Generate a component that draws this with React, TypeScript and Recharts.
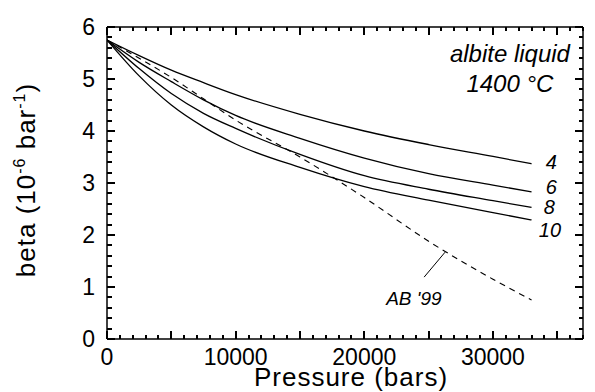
import React from "react";
import { LineChart, Line, XAxis, YAxis, ReferenceDot, ReferenceLine } from "recharts";

// Pressure (bars)
const pressure = [0, 2500, 5000, 7500, 10000, 15000, 20000, 25000, 30000, 33000];
// beta (10^-6 bar^-1) for K' = 4, 6, 8, 10 and the AB '99 curve
const beta4 = [5.75, 5.45, 5.17, 4.93, 4.7, 4.32, 4.0, 3.74, 3.51, 3.37];
const beta6 = [5.75, 5.32, 4.95, 4.6, 4.3, 3.86, 3.48, 3.18, 2.96, 2.83];
const beta8 = [5.75, 5.2, 4.72, 4.34, 4.05, 3.55, 3.14, 2.88, 2.66, 2.53];
const beta10 = [5.75, 5.06, 4.5, 4.08, 3.75, 3.3, 2.93, 2.67, 2.43, 2.29];
const betaAB99 = [5.75, 5.4, 5.03, 4.62, 4.21, 3.5, 2.72, 1.88, 1.15, 0.75];

const xLabelTicks = [0, 10000, 20000, 30000];
const xMinorTicks = Array.from({ length: 38 }, (_, i) => i * 1000);
const yMinorTicks = Array.from({ length: 31 }, (_, i) => Math.round(i * 2) / 10);

const X_DOMAIN: [number, number] = [0, 37000];
const Y_DOMAIN: [number, number] = [0, 6];

const curveLabels: [string, number, number][] = [
  ["4", 34110, 3.27],
  ["6", 34110, 2.79],
  ["8", 33950, 2.4],
  ["10", 33570, 1.96],
];
const abLabel: [string, number, number] = ["AB '99", 21700, 0.65];
const abLeader: [number, number][] = [
  [24650, 1.19],
  [26280, 1.67],
];
const titleLines: [string, number, number][] = [
  ["albite liquid", 31320, 5.33],
  ["1400 °C", 31320, 4.75],
];

const data = pressure.map((p, i) => ({
  p,
  k4: beta4[i],
  k6: beta6[i],
  k8: beta8[i],
  k10: beta10[i],
  ab: betaAB99[i],
}));

const FONT = "'Liberation Sans', Arial, Helvetica, sans-serif";
const TICK_COLOR = "#000";
const isMajor = (v: number, step: number) => Math.abs(v / step - Math.round(v / step)) < 1e-6;

const BottomTick = (props: any) => {
  const { x, y, payload } = props;
  const v = payload.value;
  const len = isMajor(v, 5000) ? 8 : 4;
  const sx = Math.round(x);
  return (
    <g>
      <rect x={sx - 1} y={y - len} width={2} height={len} fill={TICK_COLOR} />
      {xLabelTicks.includes(v) && (
        <text x={x} y={y + 26} textAnchor="middle" fontFamily={FONT} fontSize={23} fill="#000">
          {v}
        </text>
      )}
    </g>
  );
};

const TopTick = (props: any) => {
  const { x, y, payload } = props;
  const len = isMajor(payload.value, 5000) ? 8 : 4;
  const sx = Math.round(x);
  return (
    <g>
      <rect x={sx - 1} y={y} width={2} height={len} fill={TICK_COLOR} />
    </g>
  );
};

const LeftTick = (props: any) => {
  const { x, y, payload } = props;
  const v = payload.value;
  const major = isMajor(v, 1);
  const sy = Math.round(y);
  return (
    <g>
      <rect x={x} y={sy - 1} width={major ? 8 : 5} height={2} fill={TICK_COLOR} />
      {major && (
        <text x={x - 12} y={y + 8} textAnchor="end" fontFamily={FONT} fontSize={23} fill="#000">
          {v}
        </text>
      )}
    </g>
  );
};

const RightTick = (props: any) => {
  const { x, y, payload } = props;
  const len = isMajor(payload.value, 1) ? 8 : 4;
  const sy = Math.round(y);
  return (
    <g>
      <rect x={x - len} y={sy - 1} width={len} height={2} fill={TICK_COLOR} />
    </g>
  );
};

const italicText = (text: string, size: number, anchor: string) => (props: any) => {
  const vb = props.viewBox || {};
  return (
    <text x={vb.x} y={vb.y} textAnchor={anchor} fontFamily={FONT} fontStyle="italic" fontSize={size} fill="#000">
      {text}
    </text>
  );
};

const XTitle = (props: any) => {
  const vb = props.viewBox || {};
  return (
    <text
      x={vb.x + vb.width / 2 + 6}
      y={vb.y + 47}
      textAnchor="middle"
      fontFamily={FONT}
      fontSize={26}
      letterSpacing={1}
      fill="#000"
    >
      Pressure (bars)
    </text>
  );
};

const YTitle = (props: any) => {
  const vb = props.viewBox || {};
  const cx = 35;
  const cy = vb.y + vb.height / 2 - 3;
  return (
    <text
      x={cx}
      y={cy}
      textAnchor="middle"
      fontFamily={FONT}
      fontSize={26}
      letterSpacing={1}
      fill="#000"
      transform={`rotate(-90, ${cx}, ${cy})`}
    >
      <tspan>beta (10</tspan>
      <tspan dy={-10} fontSize={16}>-6</tspan>
      <tspan dy={10}> bar</tspan>
      <tspan dy={-10} fontSize={16}>-1</tspan>
      <tspan dy={10}>)</tspan>
    </text>
  );
};

export default function App() {
  return (
    <div style={{ position: "absolute", left: 0, top: 0, background: "#fff" }}>
      <LineChart width={595} height={392} data={data} margin={{ top: 26, right: 11, bottom: 13, left: 0 }}>
        <XAxis xAxisId="bottom" type="number" dataKey="p" domain={X_DOMAIN} allowDataOverflow ticks={xMinorTicks} interval={0} height={40} tickSize={0} tickMargin={0} tickLine={false} tick={<BottomTick />} axisLine={{ stroke: "#000", strokeWidth: 1.5 }} label={{ content: <XTitle /> }} />
        <XAxis xAxisId="top" orientation="top" type="number" dataKey="p" domain={X_DOMAIN} allowDataOverflow ticks={xMinorTicks} interval={0} height={1} tickSize={0} tickMargin={0} tickLine={false} tick={<TopTick />} axisLine={{ stroke: "#000", strokeWidth: 1.5 }} />
        <YAxis yAxisId="left" domain={Y_DOMAIN} allowDataOverflow ticks={yMinorTicks} interval={0} width={107} tickSize={0} tickMargin={0} tickLine={false} tick={<LeftTick />} axisLine={{ stroke: "#000", strokeWidth: 1.5 }} label={{ content: <YTitle /> }} />
        <YAxis yAxisId="right" orientation="right" domain={Y_DOMAIN} allowDataOverflow ticks={yMinorTicks} interval={0} width={1} tickSize={0} tickMargin={0} tickLine={false} tick={<RightTick />} axisLine={{ stroke: "#000", strokeWidth: 1.5 }} />
        <Line xAxisId="bottom" yAxisId="left" type="monotone" dataKey="k4" stroke="#000" strokeWidth={1.3} dot={false} isAnimationActive={false} />
        <Line xAxisId="bottom" yAxisId="left" type="monotone" dataKey="k6" stroke="#000" strokeWidth={1.3} dot={false} isAnimationActive={false} />
        <Line xAxisId="bottom" yAxisId="left" type="monotone" dataKey="k8" stroke="#000" strokeWidth={1.3} dot={false} isAnimationActive={false} />
        <Line xAxisId="bottom" yAxisId="left" type="monotone" dataKey="k10" stroke="#000" strokeWidth={1.3} dot={false} isAnimationActive={false} />
        <Line xAxisId="bottom" yAxisId="left" type="monotone" dataKey="ab" stroke="#000" strokeWidth={1.1} strokeDasharray="6 5" dot={false} isAnimationActive={false} />
        <ReferenceLine xAxisId="bottom" yAxisId="left" segment={abLeader.map(([x, y]) => ({ x, y }))} stroke="#000" strokeWidth={1} />
        {curveLabels.map(([t, x, y]) => (
          <ReferenceDot key={t} xAxisId="bottom" yAxisId="left" x={x} y={y} r={0} fill="none" stroke="none" label={{ content: italicText(t, 20, "start") }} />
        ))}
        <ReferenceDot xAxisId="bottom" yAxisId="left" x={abLabel[1]} y={abLabel[2]} r={0} fill="none" stroke="none" label={{ content: italicText(abLabel[0], 19, "start") }} />
        {titleLines.map(([t, x, y]) => (
          <ReferenceDot key={t} xAxisId="bottom" yAxisId="left" x={x} y={y} r={0} fill="none" stroke="none" label={{ content: italicText(t, 24, "middle") }} />
        ))}
      </LineChart>
    </div>
  );
}
